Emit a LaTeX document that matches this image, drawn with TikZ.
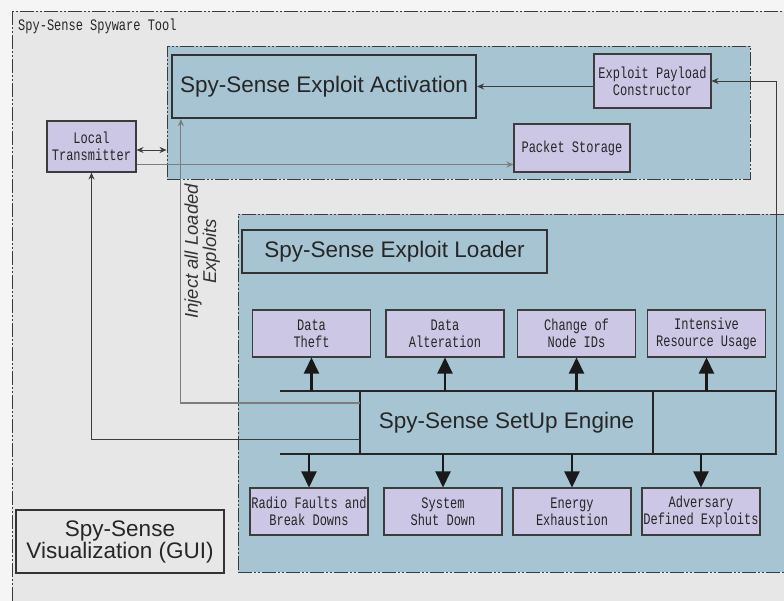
\documentclass[tikz,border=0pt]{standalone}
\usepackage{fontspec}
\setmainfont{Liberation Sans}
\newfontfamily\boxfont[FakeStretch=0.75]{Liberation Mono}
\usetikzlibrary{arrows.meta,positioning}

\definecolor{bggray}{RGB}{231,231,231}
\definecolor{panelblue}{RGB}{166,196,210}
\definecolor{boxlilac}{RGB}{204,199,228}
\definecolor{linegray}{RGB}{60,60,60}
\definecolor{injectgray}{RGB}{125,125,125}

\tikzset{
  framedash/.style={draw=linegray, line width=0.9pt, dash pattern=on 14pt off 2pt on 2pt off 2pt on 2pt off 2pt},
  panel/.style={framedash, fill=panelblue, inner sep=0pt},
  attack/.style={draw=linegray, fill=boxlilac, line width=1.1pt, minimum width=118pt, minimum height=47pt,
    align=center, inner sep=1pt, text=black!85, font=\boxfont\fontsize{16}{17}\selectfont},
  title/.style={draw=black!80, line width=2.2pt, align=center, inner sep=0pt, text=black!85,
    font=\fontsize{22.5}{19}\selectfont},
  engbox/.style={draw=black!85, line width=2pt, outer sep=0pt, inner sep=0pt, minimum height=63pt,
    text=black!85, font=\fontsize{22.5}{19}\selectfont},
  bus/.style={draw=black!85, line width=2pt},
  fat/.style={draw=black!90, line width=2.4pt, -{Triangle[width=15pt,length=16pt]}},
  feed/.style={draw=linegray, line width=0.9pt},
  >={Stealth[width=6pt,length=7pt]},
}

\begin{document}
\begin{tikzpicture}[x=1pt,y=-1pt]
  \useasboundingbox (0,0) rectangle (784,601);
  \fill[black!4] (0,0) rectangle (784,601);
  \draw[framedash, fill=bggray] (12,11) rectangle (820,630);
  \node[anchor=base west, inner sep=0pt, text=black!85, font=\boxfont\fontsize{16}{17}\selectfont] (tool) at (18,30.5) {Spy-Sense Spyware Tool};

  % activation side
  \node[panel, minimum width=583pt, minimum height=133pt] (actpanel) at (458.5,112.5) {};
  \node[title, minimum width=304pt, minimum height=63pt] (act) at (324,86.5) {Spy-Sense Exploit Activation};
  \node[attack, minimum width=117pt, minimum height=54pt] (payload) at (652.5,81) {Exploit Payload\\Constructor};
  \node[attack, minimum width=116pt, minimum height=48pt] (packet) at (572,148) {Packet Storage};
  \node[attack, minimum width=89pt, minimum height=51pt] (ltx) at (91.5,146.5) {Local\\Transmitter};

  % loader side
  \node[panel, minimum width=562pt, minimum height=358pt] (ldpanel) at (519,393) {};
  \node[title, minimum width=305pt, minimum height=43pt] (loader) at (394.5,251.5) {Spy-Sense Exploit Loader};

  \node[attack] (theft) at (311.5,333.5) {Data\\Theft};
  \node[attack] (alter) at (445,333.5) {Data\\Alteration};
  \node[attack] (nodeid) at (576.5,333.5) {Change of\\Node IDs};
  \node[attack] (resource) at (706.5,333.5) {Intensive\\Resource Usage};

  \node[engbox, minimum width=293pt] (engine) at (506.5,422.5) {Spy-Sense SetUp Engine};
  \node[engbox, minimum width=123pt, right=0pt of engine] (engspare) {};

  \node[attack] (radio) at (309,511.5) {Radio Faults and\\Break Downs};
  \node[attack] (shutdown) at (443,511.5) {System\\Shut Down};
  \node[attack] (energy) at (572,511.5) {Energy\\Exhaustion};
  \node[attack] (adversary) at (701,511.5) {Adversary\\Defined Exploits};

  \node[title, minimum width=208pt, minimum height=63pt] (gui) at (120,541.5) {Spy-Sense\\Visualization (GUI)};

  % bus lines
  \draw[bus] ([xshift=-80pt]engine.north west) -- (engine.north west);
  \draw[bus] ([xshift=-80pt]engine.south west) -- (engine.south west);
  \foreach \n in {theft,alter,nodeid,resource}
    \draw[fat] (\n.south |- engine.north) -- (\n.south);
  \foreach \n in {radio,shutdown,energy,adversary}
    \draw[fat] (\n.north |- engine.south) -- (\n.north);

  % connectors
  \coordinate (ltxlink) at ([yshift=-3.5pt]ltx.east);
  \coordinate (ltxout) at ([yshift=-18pt]ltx.east);
  \draw[feed, <->] (ltxlink) -- (ltxlink -| actpanel.west);
  \draw[feed, ->, draw=injectgray] (ltxout) -- (ltxout -| packet.west);
  \draw[feed, ->] (payload.west |- act.east) -- (act.east);
  \draw[feed, ->] (engspare.south east) -- (engspare.north east |- payload.east) -- (payload.east);
  \draw[feed, ->, draw=injectgray, line width=1.1pt] ([yshift=19.5pt]engine.west) -| ([xshift=10pt]act.south west)
    node[pos=0.767, rotate=90, anchor=north, inner sep=3pt, align=center, text=black!80,
      font=\itshape\fontsize{18.5}{16.5}\selectfont] (inject) {Inject all Loaded\\Exploits};
  \draw[feed, ->] ([yshift=-16.5pt]engine.west) -| (ltx.south);
\end{tikzpicture}
\end{document}
